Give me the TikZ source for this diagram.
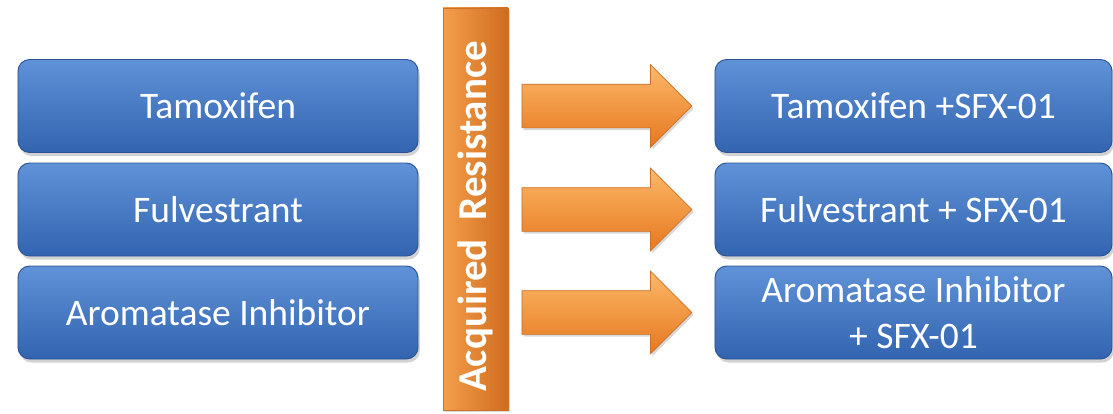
\documentclass[tikz,border=0pt]{standalone}
\usepackage{fontspec}
\setmainfont{Carlito}
\usetikzlibrary{shapes.arrows,shadows}

\definecolor{boxtop}{RGB}{96,146,216}
\definecolor{boxbot}{RGB}{50,100,176}
\definecolor{boxline}{RGB}{42,82,148}
\definecolor{ortop}{RGB}{252,184,104}
\definecolor{orbot}{RGB}{230,120,32}
\definecolor{orline}{RGB}{205,112,40}

\tikzset{
  drugbox/.style={draw=boxline, line width=0.8pt, rounded corners=0.35cm,
    top color=boxtop, bottom color=boxbot, text=white, align=center,
    minimum height=2.79cm, inner sep=0pt,
    font=\fontsize{32}{39}\selectfont,
    drop shadow={shadow xshift=1.5pt, shadow yshift=-3pt, opacity=0.35}},
  leftbox/.style={drugbox, minimum width=12cm},
  rightbox/.style={drugbox, minimum width=11.91cm},
  resistbar/.style={draw=orline, line width=0.8pt, rotate=90,
    left color=ortop!60!orbot, right color=orbot!90!black, text=white,
    minimum width=12.06cm, minimum height=1.95cm, inner sep=0pt,
    font=\fontsize{35}{40}\selectfont\bfseries,
    drop shadow={shadow xshift=1.5pt, shadow yshift=-2pt, opacity=0.3}},
  bigarrow/.style={single arrow, draw=orline, line width=0.6pt,
    top color=ortop, bottom color=orbot,
    minimum height=5.1cm, minimum width=2.46cm,
    inner xsep=0pt, inner ysep=0.645cm,
    single arrow head extend=0.585cm,
    drop shadow={shadow xshift=1.5pt, shadow yshift=-2pt, opacity=0.3}}
}

\begin{document}
\begin{tikzpicture}[x=0.03cm, y=-0.03cm]
  \useasboundingbox (0,0) rectangle (1113,413);
  \fill[white] (0,0) rectangle (1113,413);

  % the bar in the middle
  \node[resistbar] (resist) at (475.5,209) {Acquired\ \ Resistance\hspace*{0.45cm}};

  \foreach \y/\nm/\lft/\rgt in {106/tam/Tamoxifen/Tamoxifen +SFX-01,
      209.5/ful/Fulvestrant/Fulvestrant + SFX-01,
      312.5/aro/Aromatase Inhibitor/{Aromatase Inhibitor\\+ SFX-01}} {
    \node[leftbox] (\nm) at (218,\y) {\lft};
    \node[bigarrow] (\nm arrow) at (596,\y) {};
    \node[rightbox] (\nm sfx) at (913.5,\y) {\rgt};
  }
\end{tikzpicture}
\end{document}
